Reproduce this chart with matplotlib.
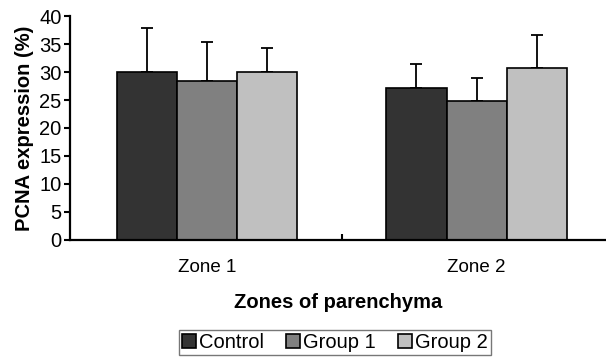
import numpy as np
import matplotlib.pyplot as plt

plt.rcParams['font.family'] = ['Liberation Sans', 'DejaVu Sans']

zonas = ["Zone 1", "Zone 2"]
grupos = ["Control", "Group 1", "Group 2"]
media = {
    "Control": [30.0, 27.2],
    "Group 1": [28.4, 24.8],
    "Group 2": [30.0, 30.7],
}
erro = {
    "Control": [7.8, 4.3],
    "Group 1": [7.0, 4.2],
    "Group 2": [4.3, 5.9],
}
cores = ["#333333", "#808080", "#c0c0c0"]

fig = plt.figure(figsize=(6.06, 3.57), dpi=100)
ax = fig.add_axes([0.1155, 0.328, 0.8845, 0.627])

x = np.arange(len(zonas))
larg = 0.223
for i, g in enumerate(grupos):
    pos = x + (i - 1) * larg
    ax.bar(pos, media[g], width=larg, color=cores[i], edgecolor='black',
           linewidth=1.2, label=g, zorder=2)
    ax.errorbar(pos, media[g], yerr=[np.zeros(2), erro[g]], fmt='none',
                ecolor='black', elinewidth=1.3, capsize=4.5, capthick=1.3, zorder=1)

ax.set_xlim(-0.508, 1.48)
ax.set_ylim(0, 40)
ax.set_yticks(range(0, 41, 5))
ax.set_xticks(x)
ax.set_xticklabels(zonas)
ax.set_xticks([0.5], minor=True)
ax.tick_params(axis='x', which='major', length=0, pad=14, labelsize=13.5)
ax.tick_params(axis='x', which='minor', direction='in', length=4, width=1.5)
ax.tick_params(axis='y', length=4, width=1.5, labelsize=14.5, pad=2)
for s in ['top', 'right']:
    ax.spines[s].set_visible(False)
for s in ['left', 'bottom']:
    ax.spines[s].set_linewidth(1.6)

ax.set_ylabel("PCNA expression (%)", fontsize=14.5, fontweight='bold', labelpad=4)
ax.set_xlabel("Zones of parenchyma", fontsize=14.5, fontweight='bold', labelpad=12)

leg = fig.legend(loc='center', bbox_to_anchor=(0.553, 0.04), ncol=3, fontsize=14.5,
                 frameon=True, fancybox=False, edgecolor='#555555',
                 handlelength=0.7, handleheight=0.7, handletextpad=0.15,
                 columnspacing=1.1, borderpad=0.15, borderaxespad=0)
leg.get_frame().set_linewidth(1.0)

fig.savefig("out.png", dpi=100)
